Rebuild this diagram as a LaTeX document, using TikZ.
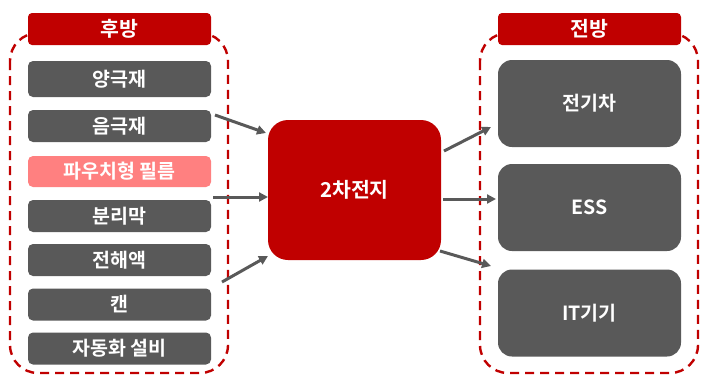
\documentclass[tikz,border=0pt]{standalone}
\usepackage{fontspec}
\setmainfont{Noto Sans CJK KR}[BoldFont={* Bold}]
\usetikzlibrary{arrows.meta}
\definecolor{cred}{HTML}{C00000}
\definecolor{cgray}{HTML}{595959}
\definecolor{cpink}{HTML}{FF8080}
\tikzset{
  x=1pt,y=-1pt,
  grp/.style={draw=cred,line width=2.4pt,dash pattern=on 9pt off 6pt,rounded corners=28pt},
  ttl/.style={fill=cred,rounded corners=4pt,text=white,font=\bfseries\fontsize{20.5}{22}\selectfont,minimum width=183pt,minimum height=32pt,inner sep=0pt},
  item/.style={fill=cgray,rounded corners=5pt,text=white,font=\bfseries\fontsize{19.5}{21}\selectfont,minimum width=183pt,inner sep=0pt},
  big/.style={fill=cgray,rounded corners=14pt,text=white,font=\bfseries\fontsize{19.5}{21}\selectfont,minimum width=183pt,minimum height=87pt,inner sep=0pt},
  conn/.style={draw=cgray,line width=3pt,-{Triangle[length=9pt,width=9pt]}}
}
\begin{document}
\begin{tikzpicture}
\useasboundingbox (0,0) rectangle (702,376);
% groups
\draw[grp] (10,33) rectangle (228,373);
\draw[grp] (480,33) rectangle (698,373);
\node[ttl] (back) at (119.5,29) {후방};
\node[ttl] (front) at (589.5,29) {전방};
% left items
\node[item,minimum height=36pt] (a1) at (119.5,79) {양극재};
\node[item,minimum height=32pt] (a2) at (119.5,126) {음극재};
\node[item,minimum height=31pt,fill=cpink] (a3) at (119.5,171.5) {파우치형 필름};
\node[item,minimum height=32pt] (a4) at (119.5,216) {분리막};
\node[item,minimum height=32pt] (a5) at (119.5,260) {전해액};
\node[item,minimum height=32pt] (a6) at (119.5,304.5) {캔};
\node[item,minimum height=32pt] (a7) at (119.5,348.5) {자동화 설비};
% center
\node[fill=cred,rounded corners=20pt,text=white,font=\bfseries\fontsize{20.5}{22}\selectfont,minimum width=173pt,minimum height=140pt,inner sep=0pt] (c) at (354.5,190) {2차전지};
% right items
\node[big] (b1) at (589.5,103.5) {전기차};
\node[big] (b2) at (589.5,207.5) {ESS};
\node[big] (b3) at (589.5,313) {IT기기};
% connectors
\coordinate (l1s) at (215,115);
\coordinate (l1e) at (266,133);
\coordinate (l2s) at (213,197);
\coordinate (l2e) at (268,197);
\coordinate (l3s) at (222,282);
\coordinate (l3e) at (268,256);
\coordinate (r1s) at (444,151);
\coordinate (r1e) at (491,127);
\coordinate (r2s) at (443,199);
\coordinate (r2e) at (496,199);
\coordinate (r3s) at (440,251);
\coordinate (r3e) at (491,266);
\draw[conn] (l1s) -- (l1e);
\draw[conn] (l2s) -- (l2e);
\draw[conn] (l3s) -- (l3e);
\draw[conn] (r1s) -- (r1e);
\draw[conn] (r2s) -- (r2e);
\draw[conn] (r3s) -- (r3e);
\end{tikzpicture}
\end{document}
